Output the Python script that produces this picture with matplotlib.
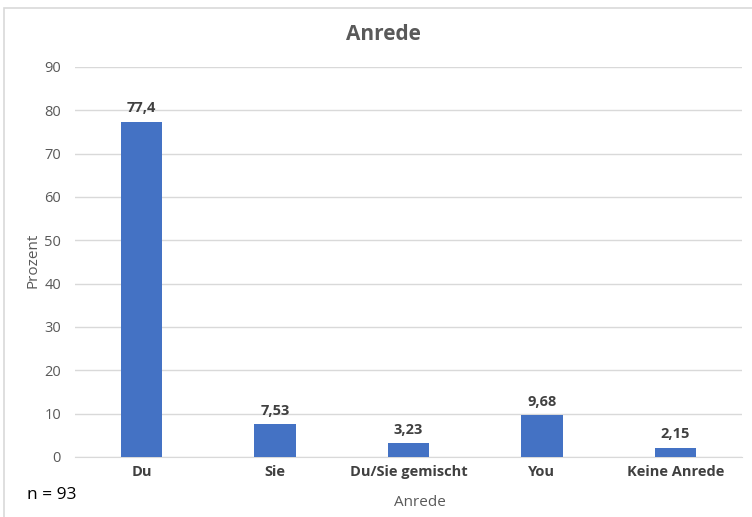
import matplotlib
matplotlib.use("Agg")
import matplotlib.pyplot as plt
from matplotlib.patches import Rectangle

# Daten
categories = ["Du", "Sie", "Du/Sie gemischt", "You", "Keine Anrede"]
values = [77.4, 7.53, 3.23, 9.68, 2.15]
value_labels = ["77,4", "7,53", "3,23", "9,68", "2,15"]
yticks = list(range(0, 100, 10))

plt.rcParams['font.family'] = ['Open Sans', 'DejaVu Sans']

fig = plt.figure(figsize=(7.52, 5.17), dpi=100)
ax = fig.add_axes([75 / 752, 1 - 457 / 517, 667 / 752, 390 / 517])

# Rahmen um das Diagramm
fig.patches.append(Rectangle((4 / 752, -0.1), 1.1, 1 - 8 / 517 + 0.1,
                             transform=fig.transFigure, fill=False,
                             edgecolor='#d9d9d9', linewidth=1.2))

x = range(len(categories))
ax.bar(x, values, width=0.31, color='#4472C4', zorder=3)
for xi, v, lab in zip(x, values, value_labels):
    ax.text(xi, v + 1.5, lab, ha='center', va='bottom', fontsize=10.5,
            fontweight='bold', color='#404040')

ax.set_xlim(-0.5, len(categories) - 0.5)
ax.set_ylim(0, 90)
ax.set_yticks(yticks)
ax.set_xticks(list(x))
ax.set_xticklabels(categories, fontsize=10.5, fontweight='bold', color='#404040')
ax.tick_params(axis='y', labelsize=10.5, labelcolor='#595959', length=0, pad=10)
ax.tick_params(axis='x', length=0, pad=6)
ax.grid(axis='y', color='#d9d9d9', linewidth=1, zorder=0)
for s in ['top', 'right', 'left']:
    ax.spines[s].set_visible(False)
ax.spines['bottom'].set_color('#d9d9d9')

fig.text(383 / 752, 1 - 35 / 517, "Anrede", ha='center', va='center',
         fontsize=15, fontweight='bold', color='#595959')
fig.text(420 / 752, 1 - 503 / 517, "Anrede", ha='center', va='center',
         fontsize=11, color='#595959')
fig.text(33 / 752, 1 - 260 / 517, "Prozent", ha='center', va='center',
         rotation=90, fontsize=11, color='#595959')
fig.text(27 / 752, 1 - 495 / 517, "n = 93", ha='left', va='center',
         fontsize=12.5, color='black')

fig.savefig("out.png", dpi=100)
